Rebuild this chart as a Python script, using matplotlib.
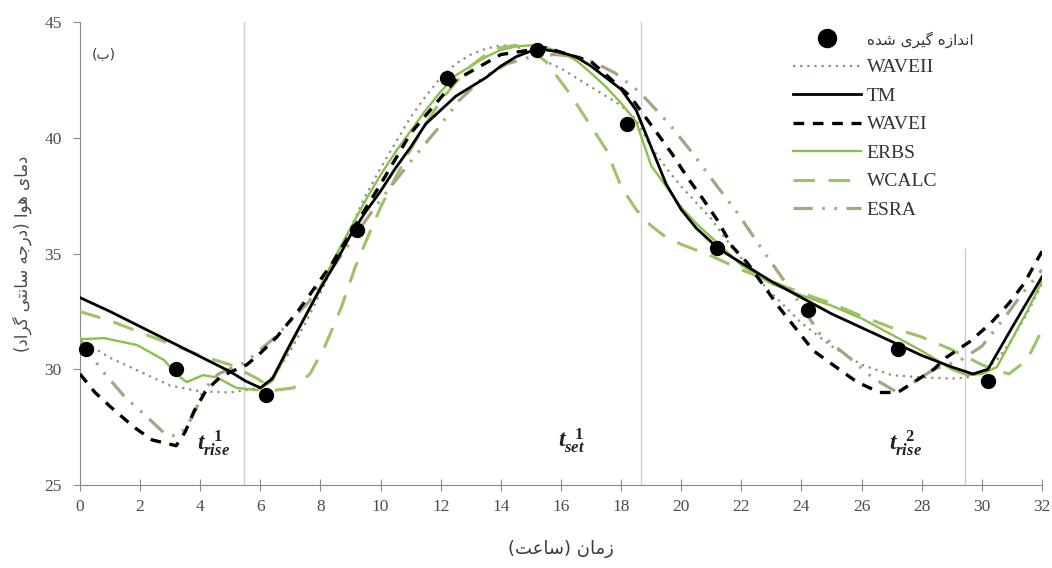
"""Air temperature over 32 h: measured points vs. six models (TM, WAVEI/II, ERBS, WCALC, ESRA)."""

import matplotlib

matplotlib.use("Agg")
import matplotlib.pyplot as plt
from matplotlib.lines import Line2D

# --- data -------------------------------------------------------------------

meas_t = [0.2, 3.2, 6.2, 9.2, 12.2, 15.2, 18.2, 21.2, 24.2, 27.2, 30.2]
meas_T = [30.9, 30.0, 28.9, 36.0, 42.6, 43.8, 40.6, 35.25, 32.55, 30.9, 29.5]

tm_t = [0, 1, 2, 3, 4, 5, 5.5, 6.0, 6.4, 7, 7.5, 8, 8.5, 9, 9.5, 10, 10.5, 11, 11.5,
        12, 12.5, 13, 13.5, 14, 14.5, 15, 15.5, 16, 16.5, 17, 17.5, 18, 18.5, 19, 19.5,
        20, 20.5, 21, 21.5, 22, 23, 24, 25, 26, 27, 28, 29, 29.7, 30.2, 31, 32]
tm_T = [33.1, 32.5, 31.85, 31.2, 30.55, 29.9, 29.5, 29.2, 29.6, 31.1, 32.3, 33.5, 34.6,
        35.8, 36.8, 37.7, 38.7, 39.6, 40.6, 41.2, 41.8, 42.2, 42.6, 43.1, 43.5, 43.75,
        43.8, 43.7, 43.5, 43.1, 42.6, 42.1, 41.2, 39.6, 38.0, 36.9, 36.1, 35.5, 35.0,
        34.6, 33.8, 33.1, 32.4, 31.8, 31.2, 30.6, 30.1, 29.8, 30.0, 31.8, 34.0]

wave1_t = [0, 0.5, 1.0, 1.8, 2.4, 3.2, 3.5, 3.8, 4.2, 4.7, 5.55, 6.0, 6.55, 7.3, 8.4,
           9.1, 10, 11, 12.5, 14, 15.5, 17, 18.3, 19.2, 19.7, 20.2, 20.7, 21.2, 21.7,
           22.2, 23.3, 24.4, 25.2, 25.85, 26.6, 27.2, 27.8, 28.4, 28.8, 29.6, 30.3,
           30.9, 31.4, 32]
wave1_T = [29.8, 29.0, 28.4, 27.5, 26.95, 26.7, 27.3, 28.2, 29.1, 29.7, 30.2, 30.7,
           31.4, 32.6, 34.6, 36.1, 38.0, 40.2, 42.5, 43.6, 43.9, 43.3, 41.8, 40.2,
           39.3, 38.3, 37.4, 36.45, 35.3, 34.6, 32.6, 30.8, 30.05, 29.45, 29.0, 29.0,
           29.5, 30.0, 30.5, 31.2, 32.0, 32.85, 33.7, 35.1]

wave2_t = [0, 1, 2, 3, 4, 5, 6, 6.5, 7, 7.5, 8, 8.5, 9, 9.5, 10, 10.5, 11, 11.5, 12,
           12.5, 13, 13.5, 14, 14.5, 15, 15.5, 16, 16.5, 17, 17.5, 18, 18.5, 19, 19.5,
           20, 20.5, 21, 21.5, 22, 22.5, 23, 24, 25, 26, 27, 28, 29, 29.5, 30, 30.5,
           31, 31.5, 32]
wave2_T = [31.3, 30.5, 29.9, 29.3, 29.05, 29.0, 29.2, 29.8, 30.8, 32.0, 33.3, 34.7,
           36.1, 37.5, 38.7, 39.8, 40.9, 41.8, 42.6, 43.2, 43.6, 43.85, 44.0, 43.95,
           43.7, 43.3, 43.0, 42.6, 42.2, 41.8, 41.4, 40.8, 39.6, 38.7, 37.9, 37.2, 36.5,
           35.6, 34.8, 34.0, 33.3, 32.0, 31.0, 30.2, 29.75, 29.65, 29.6, 29.65, 29.9,
           30.4, 31.3, 32.4, 33.7]

erbs_t = [0, 0.8, 1.9, 2.8, 3.2, 3.55, 4.1, 4.55, 5.2, 5.9, 6.4, 7, 7.5, 8, 8.5, 9,
          9.5, 10, 10.5, 11, 11.5, 12, 12.5, 13, 13.5, 14, 14.5, 15, 15.5, 16, 16.5,
          17, 17.5, 18, 18.5, 19, 19.5, 20, 20.5, 21, 21.5, 22, 22.5, 23, 24, 25, 26,
          27, 28, 29, 29.5, 30, 30.5, 31, 31.5, 32]
erbs_T = [31.3, 31.35, 31.05, 30.4, 29.8, 29.45, 29.75, 29.65, 29.2, 29.1, 29.5, 31.0,
          32.3, 33.6, 34.9, 36.1, 37.3, 38.4, 39.4, 40.3, 41.2, 42.0, 42.7, 43.1, 43.5,
          43.8, 43.95, 44.0, 43.9, 43.7, 43.35, 42.8, 42.2, 41.5, 40.7, 38.8, 37.9,
          37.0, 36.3, 35.7, 35.1, 34.5, 34.1, 33.7, 33.2, 32.75, 32.2, 31.5, 30.8, 30.0,
          29.75, 29.8, 30.1, 31.3, 32.5, 33.8]

wcalc_t = [0, 1, 2, 3, 4, 5, 5.9, 6.5, 7.1, 7.65, 8.15, 8.7, 9.15, 9.6, 10, 10.5, 11,
           11.5, 12, 12.5, 13, 13.5, 14, 14.5, 15, 15.5, 15.9, 16.3, 16.7, 17.1, 17.5,
           18, 18.5, 19, 19.5, 20, 21, 22, 23, 24, 25, 26, 27, 28, 29, 30, 30.4, 30.9,
           31.5, 32]
wcalc_T = [32.5, 32.1, 31.6, 31.1, 30.6, 30.2, 29.6, 29.1, 29.2, 29.8, 31.0, 32.7,
           34.4, 35.8, 37.0, 38.3, 39.5, 40.6, 41.6, 42.4, 43.1, 43.6, 43.9, 44.0, 43.8,
           43.3, 42.6, 41.9, 41.1, 40.3, 39.5, 37.9, 36.9, 36.2, 35.7, 35.4, 34.9, 34.3,
           33.8, 33.3, 32.85, 32.3, 31.8, 31.4, 30.85, 30.2, 30.0, 29.8, 30.4, 31.7]

esra_t = [0, 0.7, 1.5, 2.1, 2.8, 3.2, 3.55, 3.9, 4.1, 4.6, 5.5, 6.5, 7.6, 8.3, 9.0,
          9.7, 10.4, 11.2, 11.9, 12.6, 13.4, 14.2, 15.0, 15.8, 16.6, 17.2, 17.8, 18.6,
          19.6, 20.4, 21.2, 21.9, 22.55, 23.6, 24.6, 25.5, 26.4, 27.2, 27.8, 28.4,
          29.3, 30.0, 30.85, 31.3, 32]
esra_T = [31.3, 30.0, 28.8, 28.1, 27.25, 27.1, 27.5, 28.4, 29.1, 29.8, 30.3, 31.4,
          32.9, 34.2, 35.5, 36.8, 38.0, 39.3, 40.4, 41.6, 42.6, 43.2, 43.5, 43.6, 43.5,
          43.2, 42.8, 42.0, 40.6, 39.3, 37.9, 36.7, 35.45, 33.5, 31.55, 30.6, 29.6,
          29.0, 29.5, 30.0, 30.4, 31.0, 32.4, 33.2, 34.3]

sun_events = [5.45, 18.66, 29.44]  # vertical guide lines [h]
sun_tops = [45, 45, 35.2]  # upper end of each guide line [deg C]

# --- Persian text: minimal shaping (matplotlib has no Arabic joining) -------

FORMS = {  # isolated, final, initial, medial
    "ا": ("\uFE8D", "\uFE8E", None, None),
    "ب": ("\uFE8F", "\uFE90", "\uFE91", "\uFE92"),
    "ت": ("\uFE95", "\uFE96", "\uFE97", "\uFE98"),
    "ج": ("\uFE9D", "\uFE9E", "\uFE9F", "\uFEA0"),
    "د": ("\uFEA9", "\uFEAA", None, None),
    "ر": ("\uFEAD", "\uFEAE", None, None),
    "ز": ("\uFEAF", "\uFEB0", None, None),
    "س": ("\uFEB1", "\uFEB2", "\uFEB3", "\uFEB4"),
    "ش": ("\uFEB5", "\uFEB6", "\uFEB7", "\uFEB8"),
    "ع": ("\uFEC9", "\uFECA", "\uFECB", "\uFECC"),
    "م": ("\uFEE1", "\uFEE2", "\uFEE3", "\uFEE4"),
    "ن": ("\uFEE5", "\uFEE6", "\uFEE7", "\uFEE8"),
    "ه": ("\uFEE9", "\uFEEA", "\uFEEB", "\uFEEC"),
    "و": ("\uFEED", "\uFEEE", None, None),
    "ی": ("\uFBFC", "\uFBFD", "\uFBFE", "\uFBFF"),
    "گ": ("\uFB92", "\uFB93", "\uFB94", "\uFB95"),
}


def fa(text):
    """Contextual forms + visual (left-to-right) order for a Persian string."""
    out = []
    for i, ch in enumerate(text):
        forms = FORMS.get(ch)
        if forms is None:
            out.append(ch)
            continue
        prev = text[i - 1] if i > 0 else ""
        nxt = text[i + 1] if i + 1 < len(text) else ""
        join_prev = prev in FORMS and FORMS[prev][2] is not None
        join_next = forms[2] is not None and nxt in FORMS
        idx = 3 if (join_prev and join_next) else 1 if join_prev else 2 if join_next else 0
        out.append(forms[idx])
    return "".join(out)[::-1].translate(str.maketrans("()", ")("))


def main():
    plt.rcParams["font.family"] = ["Liberation Serif", "DejaVu Sans"]
    plt.rcParams["mathtext.fontset"] = "custom"
    plt.rcParams["mathtext.it"] = "Liberation Serif:italic:bold"
    plt.rcParams["mathtext.rm"] = "Liberation Serif:bold"

    fig = plt.figure(figsize=(10.52, 5.68), dpi=100)
    ax = fig.add_axes([0.076, 0.146, 0.9145, 0.815])

    for x0, top in zip(sun_events, sun_tops):
        ax.plot([x0, x0], [25, top], color="#cfcfcf", lw=1.0, zorder=1)

    ax.plot(wave2_t, wave2_T, color="#8e8e7c", lw=1.6, dashes=(1, 2.2), label="WAVEII", zorder=3)
    ax.plot(tm_t, tm_T, color="black", lw=2.0, label="TM", zorder=4)
    ax.plot(wave1_t, wave1_T, color="black", lw=2.4, dashes=(3.2, 2.6), label="WAVEI", zorder=4)
    ax.plot(erbs_t, erbs_T, color="#8cc04c", lw=1.7, label="ERBS", zorder=3)
    ax.plot(wcalc_t, wcalc_T, color="#9cc466", lw=2.2, dashes=(7, 4.5), label="WCALC", zorder=3)
    ax.plot(esra_t, esra_T, color="#a8a482", lw=2.3, dashes=(6, 3, 0.8, 3, 0.8, 3),
            label="ESRA", zorder=3)
    ax.plot(meas_t, meas_T, "o", color="black", ms=10, ls="none", zorder=6, clip_on=False)

    ax.set_xlim(0, 32)
    ax.set_ylim(25, 45)
    ax.set_xticks(range(0, 33, 2))
    ax.set_yticks(range(25, 46, 5))
    for side in ("top", "right"):
        ax.spines[side].set_visible(False)
    for side in ("left", "bottom"):
        ax.spines[side].set_color("#8a8a8a")
    ax.tick_params(axis="x", direction="inout", length=8, colors="#8a8a8a",
                   labelcolor="#4d4d4d", labelsize=12.5, pad=6)
    ax.tick_params(axis="y", direction="out", length=5, colors="#8a8a8a",
                   labelcolor="#4d4d4d", labelsize=12.5, pad=8)

    ax.set_xlabel(fa("زمان (ساعت)"), fontsize=13, color="#3a3a3a", labelpad=18,
                  family="DejaVu Sans")
    ax.set_ylabel(fa("دمای هوا (درجه سانتی گراد)"), fontsize=12, color="#4a4a4a",
                  labelpad=9, family="DejaVu Sans")
    ax.text(0.8, 43.6, fa("(ب)"), fontsize=10, color="#3a3a3a", ha="center", va="center",
            family="DejaVu Sans")

    ax.text(3.9, 26.8, r"$t_{rise}^{\ \ 1}$", fontsize=17, ha="left", va="center", color="#222222")
    ax.text(15.9, 26.9, r"$t_{set}^{\ \ 1}$", fontsize=17, ha="left", va="center", color="#222222")
    ax.text(26.9, 26.8, r"$t_{rise}^{\ \ 2}$", fontsize=17, ha="left", va="center", color="#222222")

    handles, labels = ax.get_legend_handles_labels()
    dot = Line2D([], [], marker="o", color="black", ms=13, ls="none")
    leg = ax.legend([dot] + handles, [fa("اندازه گیری شده")] + labels,
                    loc="upper left", bbox_to_anchor=(793 / 1052, 1 - 31 / 568),
                    bbox_transform=fig.transFigure, frameon=False, fontsize=14,
                    handlelength=3.5, handletextpad=0.3, labelspacing=0.56,
                    borderpad=0, borderaxespad=0)
    leg.get_texts()[0].set_family("DejaVu Sans")
    leg.get_texts()[0].set_fontsize(11)
    for txt in leg.get_texts():
        txt.set_color("#333333")

    fig.savefig("out.png", dpi=100)


if __name__ == "__main__":
    main()
